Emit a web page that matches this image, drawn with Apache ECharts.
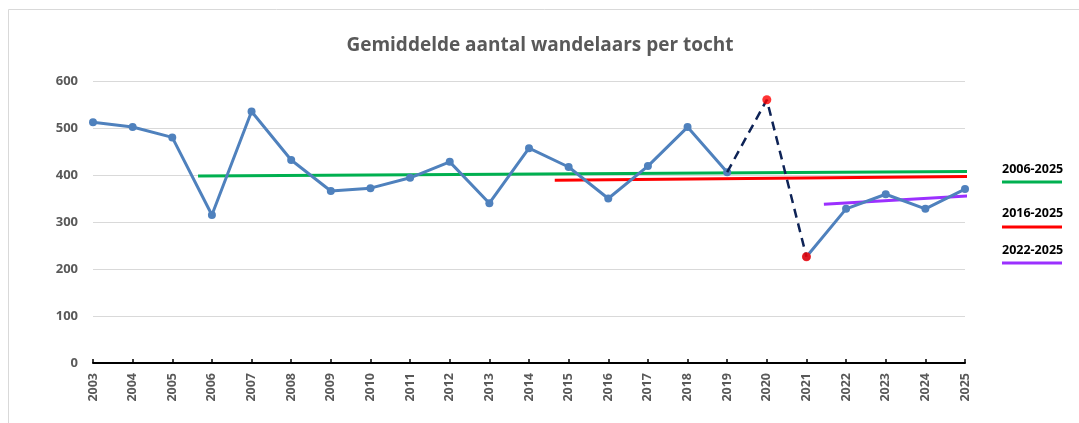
<!DOCTYPE html>
<html>
<head>
<meta charset="utf-8">
<script src="https://cdn.jsdelivr.net/npm/echarts@6/dist/echarts.min.js"></script>
<style>
html,body{margin:0;padding:0;background:#fff;}
#c{width:1079px;height:423px;}
</style>
</head>
<body>
<div id="c"></div>
<script>
const years = [2003,2004,2005,2006,2007,2008,2009,2010,2011,2012,2013,2014,2015,2016,2017,2018,2019,2020,2021,2022,2023,2024,2025];
const walkers = [512,502,480,315,535,432,366,372,394,428,340,457,417,350,419,502,406,560,226,328,359,328,370];
const dashedYears = [2019,2020,2021];
const redYears = [2020,2021];
const trend0625 = [[2005.65,398],[2025.63,408]];
const trend1625 = [[2014.65,389],[2025.63,397]];
const trend2225 = [[2021.44,338],[2025.63,358]];
const yTicks = [0,100,200,300,400,500,600];
const legendLabels = ['2006-2025','2016-2025','2022-2025'];
const legendColors = ['#00b050','#ff0000','#9b30ff'];

const valOf = y => walkers[years.indexOf(y)];
const mainData = years.map((y,i) => [y, (y===2020) ? null : walkers[i]]);
const dashData = dashedYears.map(y => [y, valOf(y)]);
const redData = redYears.map(y => [y, valOf(y)]);

const chart = echarts.init(document.getElementById('c'));
const legendY = [[163,182],[207,227],[244,263]];
const graphics = [
  {type:'rect', shape:{x:8.5,y:9.5,width:1200,height:600}, style:{fill:'none',stroke:'#d9d9d9',lineWidth:1}, silent:true}
];
legendLabels.forEach((t,i)=>{
  graphics.push({type:'text', left:1002, top:legendY[i][0], style:{text:t, font:'bold 12.5px "Open Sans"', fill:'#000'}});
  graphics.push({type:'line', shape:{x1:1002,y1:legendY[i][1],x2:1062,y2:legendY[i][1]}, style:{stroke:legendColors[i],lineWidth:3}});
});

chart.setOption({
  animation:false,
  backgroundColor:'#fff',
  title:{text:'Gemiddelde aantal wandelaars per tocht', left:535, textAlign:'center', top:31,
    textStyle:{fontFamily:'Open Sans', fontWeight:'bold', fontSize:19, color:'#595959'}},
  grid:{left:93, right:114, top:81, bottom:60},
  xAxis:{type:'value', min:2003, max:2025, interval:1,
    axisLine:{show:true, onZero:false, lineStyle:{color:'#000', width:2}},
    axisTick:{show:true, inside:true, length:4, lineStyle:{color:'#000', width:1.5}},
    splitLine:{show:false},
    axisLabel:{rotate:90, formatter:v=>String(v), fontFamily:'Open Sans', fontWeight:'bold', fontSize:12.5, color:'#595959', margin:10}
  },
  yAxis:{type:'value', min:0, max:600, interval:100,
    axisLine:{show:false}, axisTick:{show:false},
    splitLine:{lineStyle:{color:'#d9d9d9', width:1}},
    axisLabel:{fontFamily:'Open Sans', fontWeight:'bold', fontSize:13, color:'#595959', margin:15,
      formatter:v=> yTicks.includes(v) ? String(v) : ''}
  },
  series:[
    {type:'line', data:trend0625, symbol:'none', clip:false, lineStyle:{color:legendColors[0], width:3}, z:3},
    {type:'line', data:trend1625, symbol:'none', clip:false, lineStyle:{color:legendColors[1], width:3}, z:3},
    {type:'line', data:trend2225, symbol:'none', clip:false, lineStyle:{color:legendColors[2], width:3}, z:3},
    {type:'line', data:mainData, connectNulls:false, symbol:'circle', symbolSize:8,
      lineStyle:{color:'#4f81bd', width:3}, itemStyle:{color:'#4f81bd'}, z:4},
    {type:'line', data:dashData, symbol:'none', lineStyle:{color:'#0e2356', width:2.5, type:[9,6]}, z:5},
    {type:'scatter', data:redData, symbol:'circle', symbolSize:9, itemStyle:{color:'#ff0000'}, z:6}
  ],
  graphic:graphics
});
</script>
</body>
</html>
